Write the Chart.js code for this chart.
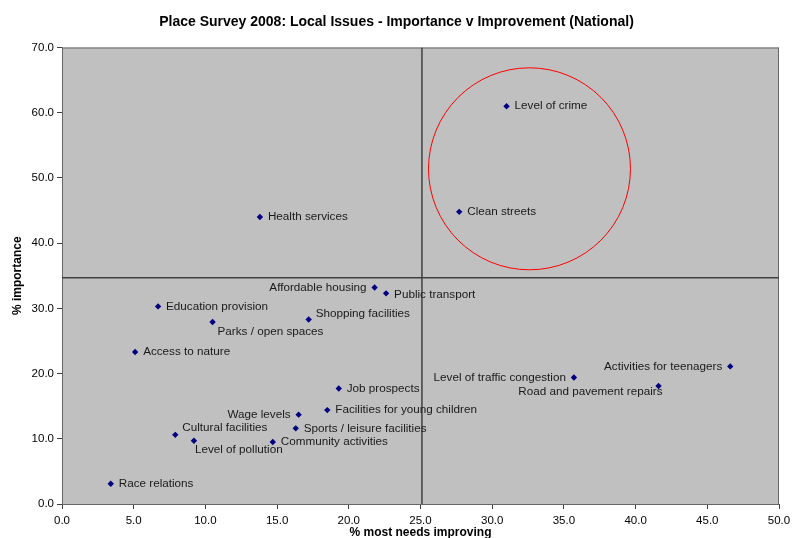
<!DOCTYPE html>
<html>
<head>
<meta charset="utf-8">
<script src="https://cdn.jsdelivr.net/npm/chart.js@4"></script>
<style>
  html, body { margin: 0; padding: 0; background: #ffffff; }
  #wrap { width: 793px; height: 538px; }
</style>
</head>
<body>
<div id="wrap"><canvas id="chart" width="793" height="538"></canvas></div>
<script>
// Issues, % most needs improving (x) and % importance (y)
const issues = [
    'Level of crime', 'Clean streets', 'Health services', 'Affordable housing',
    'Public transport', 'Education provision', 'Parks / open spaces', 'Shopping facilities',
    'Access to nature', 'Job prospects', 'Facilities for young children', 'Wage levels',
    'Sports / leisure facilities', 'Cultural facilities', 'Level of pollution',
    'Community activities', 'Race relations', 'Level of traffic congestion',
    'Activities for teenagers', 'Road and pavement repairs'
];
const needsImproving = [31.0, 27.7, 13.8, 21.8, 22.6, 6.7, 10.5, 17.2, 5.1, 19.3, 18.5, 16.5, 16.3, 7.9, 9.2, 14.7, 3.4, 35.7, 46.6, 41.6];
const importance = [61.0, 44.8, 44.0, 33.2, 32.3, 30.3, 27.9, 28.3, 23.3, 17.7, 14.4, 13.7, 11.6, 10.6, 9.7, 9.5, 3.1, 19.4, 21.1, 18.1];

const xTicks = [0, 5, 10, 15, 20, 25, 30, 35, 40, 45, 50];
const yTicks = [0, 10, 20, 30, 40, 50, 60, 70];

// quadrant dividers (averages)
const avgX = 25.1;
const avgY = 34.7;

// highlight ring around the top right issues (centre in data units)
const ringCentre = [32.6, 51.4];
const ringRadius = 101;

// label placement: [dx, dy, align]
const labelPlace = [
    [8, 0, 'left'], [8, 0, 'left'], [8, 0, 'left'], [-8, 0, 'right'],
    [8, 1, 'left'], [8, 0, 'left'], [5, 10, 'left'], [7, -6, 'left'],
    [8, 0, 'left'], [8, 0, 'left'], [8, 0, 'left'], [-8, 0, 'right'],
    [8, 0, 'left'], [7, -7, 'left'], [1, 9, 'left'],
    [8, 0, 'left'], [8, 0, 'left'], [-8, 0, 'right'],
    [-8, 0, 'right'], [4, 6, 'right']
];

const FONT = "'Liberation Sans', Arial, sans-serif";

// grey plot area with a border
const plotArea = {
    id: 'plotArea',
    beforeDatasetsDraw(chart) {
        const { ctx, chartArea: a } = chart;
        ctx.save();
        ctx.fillStyle = '#c0c0c0';
        ctx.fillRect(a.left, a.top, a.right - a.left, a.bottom - a.top);
        ctx.strokeStyle = '#666666';
        ctx.lineWidth = 1;
        ctx.strokeRect(a.left + 0.5, a.top + 0.5, a.right - a.left - 1, a.bottom - a.top);
        ctx.restore();
    }
};

// point labels and the red ring
const annotate = {
    id: 'annotate',
    afterDatasetsDraw(chart) {
        const { ctx } = chart;
        const xs = chart.scales.x;
        const ys = chart.scales.y;
        ctx.save();
        ctx.font = '11.7px ' + FONT;
        ctx.fillStyle = '#1a1a1a';
        ctx.textBaseline = 'middle';
        const meta = chart.getDatasetMeta(2);
        meta.data.forEach((pt, i) => {
            const p = labelPlace[i];
            ctx.textAlign = p[2];
            ctx.fillText(issues[i], pt.x + p[0], pt.y + p[1]);
        });
        ctx.beginPath();
        ctx.arc(xs.getPixelForValue(ringCentre[0]), ys.getPixelForValue(ringCentre[1]), ringRadius, 0, Math.PI * 2);
        ctx.strokeStyle = '#ff0000';
        ctx.lineWidth = 1;
        ctx.stroke();
        ctx.restore();
    }
};

const points = needsImproving.map((x, i) => ({ x: x, y: importance[i] }));

new Chart(document.getElementById('chart'), {
    type: 'scatter',
    data: {
        datasets: [
            {
                type: 'line',
                data: [{ x: avgX, y: 0 }, { x: avgX, y: 70 }],
                borderColor: '#404040',
                borderWidth: 1.5,
                pointRadius: 0
            },
            {
                type: 'line',
                data: [{ x: 0, y: avgY }, { x: 50, y: avgY }],
                borderColor: '#404040',
                borderWidth: 1.5,
                pointRadius: 0
            },
            {
                data: points,
                pointStyle: 'rectRot',
                pointRadius: 3.2,
                backgroundColor: '#000080',
                borderColor: '#000080',
                borderWidth: 0
            }
        ]
    },
    options: {
        responsive: false,
        animation: false,
        layout: { padding: 0 },
        plugins: {
            legend: { display: false },
            tooltip: { enabled: false },
            title: {
                display: true,
                text: 'Place Survey 2008: Local Issues - Importance v Improvement (National)',
                color: '#000000',
                font: { family: FONT, size: 14, weight: 'bold' },
                padding: { top: 14, bottom: 16.7 }
            }
        },
        scales: {
            x: {
                type: 'linear',
                min: 0,
                max: 50,
                afterBuildTicks: (s) => { s.ticks = xTicks.map(v => ({ value: v })); },
                afterFit: (s) => { s.height = 34; s.paddingLeft = 0; s.paddingRight = 14; },
                grid: { drawOnChartArea: false, drawTicks: true, tickLength: 5, color: '#404040' },
                border: { color: '#404040', width: 1 },
                ticks: {
                    color: '#000000',
                    padding: 5,
                    maxRotation: 0,
                    font: { family: FONT, size: 11.5 },
                    callback: (v) => Number(v).toFixed(1)
                },
                title: {
                    display: true,
                    text: '% most needs improving',
                    color: '#000000',
                    font: { family: FONT, size: 12, weight: 'bold', lineHeight: 1 },
                    padding: { top: 0, bottom: -1 }
                }
            },
            y: {
                type: 'linear',
                min: 0,
                max: 70,
                afterBuildTicks: (s) => { s.ticks = yTicks.map(v => ({ value: v })); },
                afterFit: (s) => { s.width = 62; },
                grid: { drawOnChartArea: false, drawTicks: true, tickLength: 5, color: '#404040' },
                border: { color: '#404040', width: 1 },
                ticks: {
                    color: '#000000',
                    padding: 3,
                    font: { family: FONT, size: 11.5 },
                    callback: (v) => Number(v).toFixed(1)
                },
                title: {
                    display: true,
                    text: '% importance',
                    color: '#000000',
                    font: { family: FONT, size: 12, weight: 'bold' },
                    padding: { top: 10, bottom: 0 }
                }
            }
        }
    },
    plugins: [plotArea, annotate]
});
</script>
</body>
</html>
